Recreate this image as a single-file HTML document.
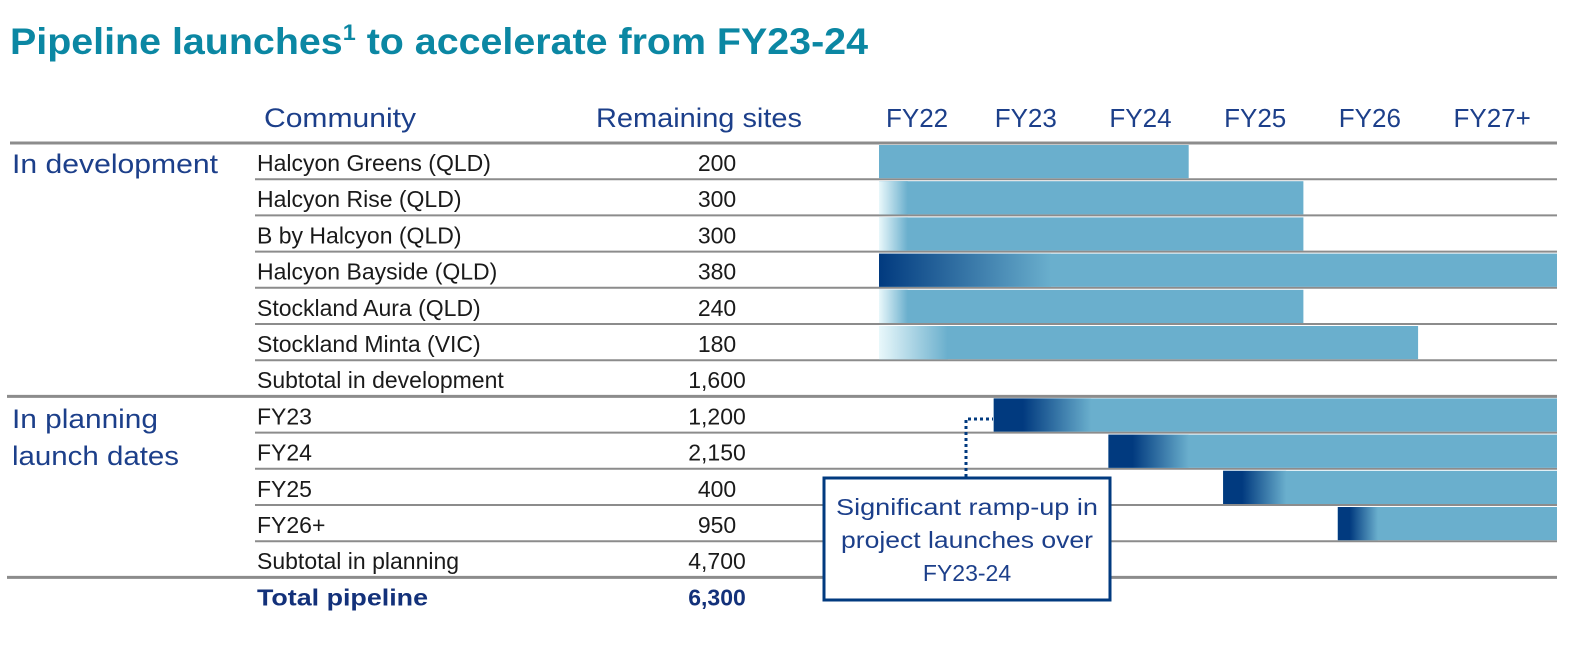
<!DOCTYPE html>
<html><head><meta charset="utf-8"><style>
html,body{margin:0;padding:0;background:#fff;}
svg{display:block;font-family:"Liberation Sans",sans-serif;}
</style></head><body>
<svg id="chart" width="1570" height="654" viewBox="0 0 1570 654" xmlns="http://www.w3.org/2000/svg">
<defs>
<linearGradient id="fadeLight" x1="0" x2="1" y1="0" y2="0"><stop offset="0" stop-color="#e9f8fb"/><stop offset="1" stop-color="#6aafcd"/></linearGradient>
<linearGradient id="fadeDark" x1="0" x2="1" y1="0" y2="0"><stop offset="0" stop-color="#013a7f"/><stop offset="0.3" stop-color="#013a7f"/><stop offset="1" stop-color="#6aafcd"/></linearGradient>
<linearGradient id="fadeDarkLong" x1="0" x2="1" y1="0" y2="0"><stop offset="0" stop-color="#013a7f"/><stop offset="1" stop-color="#6aafcd"/></linearGradient>
</defs>
<text x="10" y="54" font-size="37" font-weight="bold" fill="#0b87a3" textLength="858" lengthAdjust="spacingAndGlyphs">Pipeline launches<tspan font-size="22" dy="-14">1</tspan><tspan dy="14"> to accelerate from FY23-24</tspan></text>
<text x="264" y="127" font-size="27" fill="#1c3f8a" textLength="152" lengthAdjust="spacingAndGlyphs">Community</text>
<text x="596" y="127" font-size="27" fill="#1c3f8a" textLength="206" lengthAdjust="spacingAndGlyphs">Remaining sites</text>
<g id="grid"></g>
<g id="bars"></g>
<g id="rows"></g>
<g id="years"></g>
<text x="12" y="173" font-size="27" fill="#1c3f8a" textLength="206" lengthAdjust="spacingAndGlyphs">In development</text>
<text x="12" y="428" font-size="27" fill="#1c3f8a" textLength="146" lengthAdjust="spacingAndGlyphs">In planning</text>
<text x="12" y="465" font-size="27" fill="#1c3f8a" textLength="167" lengthAdjust="spacingAndGlyphs">launch dates</text>
<polyline points="966,477 966,419 993,419" fill="none" stroke="#013a7f" stroke-width="3" stroke-dasharray="3,3"/>
<rect x="824" y="478" width="286" height="122" fill="#fff" stroke="#013a7f" stroke-width="3"/>
<g font-size="23" fill="#1c3f8a" text-anchor="middle">
<text x="967" y="515" textLength="262" lengthAdjust="spacingAndGlyphs">Significant ramp-up in</text>
<text x="967" y="548" textLength="252" lengthAdjust="spacingAndGlyphs">project launches over</text>
<text x="967" y="581">FY23-24</text>
</g>
</svg>
<script>
const communities=["Halcyon Greens (QLD)","Halcyon Rise (QLD)","B by Halcyon (QLD)","Halcyon Bayside (QLD)","Stockland Aura (QLD)","Stockland Minta (VIC)","Subtotal in development","FY23","FY24","FY25","FY26+","Subtotal in planning","Total pipeline"];
const sites=["200","300","300","380","240","180","1,600","1,200","2,150","400","950","4,700","6,300"];
const barStart=[0,0,0,0,0,0,null,1,2,3,4,null,null];
const barEnd=[2.7,3.7,3.7,5.95,3.7,4.7,null,5.95,5.95,5.95,5.95,null,null];
const barFade=["none","light","light","darkLong","light","lightLong",null,"dark","dark","dark","dark",null,null];
const fadeYears=[0,0.25,0.25,1.5,0.25,0.6,0,0.85,0.7,0.55,0.35,0,0];
const yearLabels=["FY22","FY23","FY24","FY25","FY26","FY27+"];
const NS="http://www.w3.org/2000/svg";
const x0=879,yw=114.7,rowTop=143,rowH=36.2;
const xs=v=>x0+v*yw;
const yr=i=>rowTop+i*rowH;
function mk(tag,attrs,parent){const e=document.createElementNS(NS,tag);for(const k in attrs)e.setAttribute(k,attrs[k]);parent.appendChild(e);return e;}
const grid=document.getElementById('grid'),bars=document.getElementById('bars'),rows=document.getElementById('rows'),years=document.getElementById('years');
yearLabels.forEach((t,i)=>{
  const e=mk('text',{x:xs(i)+(i==0?7:1),y:127,'font-size':26,fill:'#1c3f8a'},years);
  
  
  e.textContent=t;
});
const tl=mk('line',{x1:10,x2:1557,y1:yr(0),y2:yr(0),stroke:'#8c8c8c','stroke-width':3},grid);


for(let i=1;i<=12;i++){
  const full=(i==7||i==12);
  const l=mk('line',{x1:full?7:255,x2:1557,y1:yr(i),y2:yr(i),stroke:'#8c8c8c','stroke-width':full?3:2},grid);
  
  
}
communities.forEach((c,i)=>{
  const bold=i==12;
  const t=mk('text',{x:257,y:yr(i)+28,'font-size':23,fill:bold?'#13317a':'#1a1a1a','font-weight':bold?'bold':'normal'},rows);
  if(bold){t.setAttribute('textLength',171);t.setAttribute('lengthAdjust','spacingAndGlyphs');}
  
  
  t.textContent=c;
  const v=mk('text',{x:717,y:yr(i)+28,'font-size':23,fill:bold?'#13317a':'#1a1a1a','font-weight':bold?'bold':'normal','text-anchor':'middle'},rows);
  
  
  v.textContent=sites[i];
  if(barStart[i]===null)return;
  const x1=xs(barStart[i]),x2=Math.min(xs(barEnd[i]),1557);
  const y=yr(i)+2,h=rowH-3;
  const b=mk('rect',{x:x1,y:y,width:x2-x1,height:h,fill:'#6aafcd'},bars);
  
  
  if(barFade[i]!=='none'){
    const fw=fadeYears[i]*yw;
    const g=barFade[i].startsWith('light')?'url(#fadeLight)':(barFade[i]==='darkLong'?'url(#fadeDarkLong)':'url(#fadeDark)');
    const f=mk('rect',{x:x1,y:y,width:fw,height:h,fill:g},bars);
    
    
  }
});
</script>
</body></html>
